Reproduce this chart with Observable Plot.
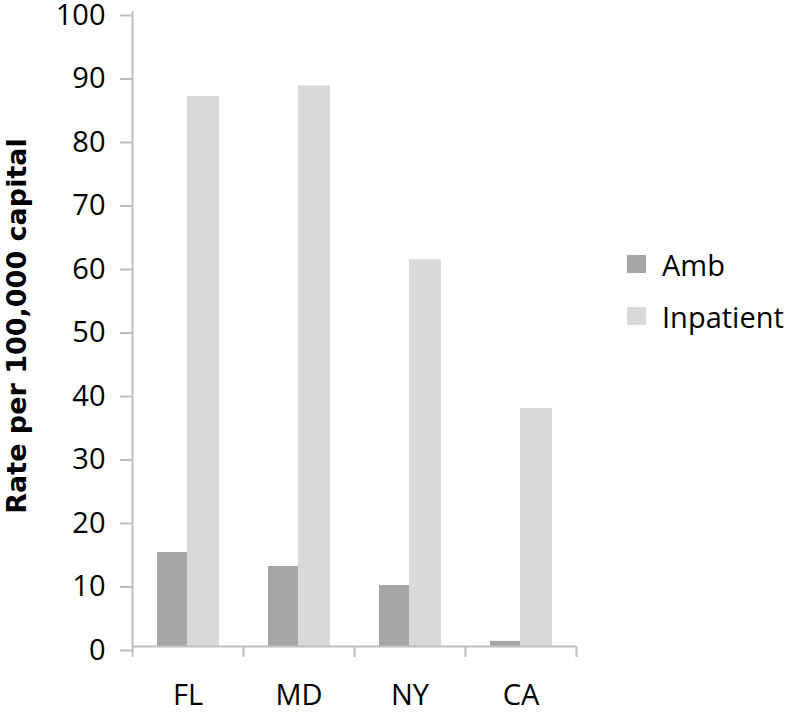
<!DOCTYPE html>
<html><head><meta charset="utf-8">
<script src="https://cdn.jsdelivr.net/npm/d3@7"></script>
<script src="https://cdn.jsdelivr.net/npm/@observablehq/plot@0.6"></script>
<style>
body{margin:0;background:#fff}
#wrap{position:relative;width:800px;height:712px;overflow:hidden}
#wrap svg{overflow:visible}
.leg{position:absolute;left:627px;display:flex;align-items:center;font-family:"Open Sans",sans-serif;font-size:29px;color:#000;white-space:nowrap}
.sw{width:19px;height:18px;margin-right:16px}
</style>
</head><body><div id="wrap"></div>
<script>
const states = ["FL", "MD", "NY", "CA"];
const seriesNames = ["Amb", "Inpatient"];
const seriesColors = ["#a6a6a6", "#d9d9d9"];
const amb = [14.8, 12.6, 9.6, 0.8];
const inpatient = [86.6, 88.3, 60.9, 37.5];
const yTicks = [0, 10, 20, 30, 40, 50, 60, 70, 80, 90, 100];
const yTitle = "Rate per 100,000 capital";

const ambData = states.map((s, i) => ({state: s, series: "Amb", value: amb[i]}));
const inpData = states.map((s, i) => ({state: s, series: "Inpatient", value: inpatient[i]}));
const axisGrey = "#bfbfbf";

const plot = Plot.plot({
  width: 800, height: 712,
  marginLeft: 132, marginRight: 224, marginTop: 11, marginBottom: 66,
  style: {fontFamily: "'Open Sans', sans-serif", fontSize: "29px", color: "#000", background: "#fff"},
  x: {domain: states, padding: 0, axis: null, label: null},
  y: {domain: [0, 100], axis: null, label: null},
  color: {domain: seriesNames, range: seriesColors},
  marks: [
    Plot.barY(ambData, {x: "state", y: "value", fill: "series", insetLeft: 25, insetRight: 56}),
    Plot.barY(inpData, {x: "state", y: "value", fill: "series", insetLeft: 55, insetRight: 24}),
    Plot.ruleY([0], {stroke: axisGrey, strokeWidth: 2}),
    Plot.ruleX(states, {x: d => d, y1: 0, y2: 0, dx: -55.5, insetBottom: -11, stroke: axisGrey, strokeWidth: 2}),
    Plot.ruleX([states[states.length - 1]], {x: d => d, y1: 0, y2: 0, dx: 55.5, insetBottom: -11, stroke: axisGrey, strokeWidth: 2}),
    Plot.ruleX([states[0]], {x: d => d, y1: 0, y2: 100, dx: -55.5, stroke: axisGrey, strokeWidth: 2}),
    Plot.axisY({ticks: yTicks, tickSize: 12, tickPadding: 15, stroke: axisGrey, strokeWidth: 2, tickFormat: d => String(d), dy: 4}),
    Plot.axisX({tickSize: 0, tickPadding: 38}),
    Plot.text([yTitle], {frameAnchor: "left", textAnchor: "middle", lineAnchor: "middle", rotate: -90, dx: -115, dy: -3, fontWeight: "bold", fontFamily: "DejaVu Sans", fontSize: 27})
  ]
});
const wrap = document.getElementById("wrap");
wrap.appendChild(plot);
const legTop = [264, 316];
seriesNames.forEach((name, i) => {
  const row = document.createElement("div");
  row.className = "leg";
  row.style.top = (legTop[i] - 20) + "px";
  row.style.height = "40px";
  const sw = document.createElement("div");
  sw.className = "sw";
  sw.style.background = seriesColors[i];
  row.appendChild(sw);
  row.appendChild(document.createTextNode(name));
  wrap.appendChild(row);
});
</script>
</body></html>
